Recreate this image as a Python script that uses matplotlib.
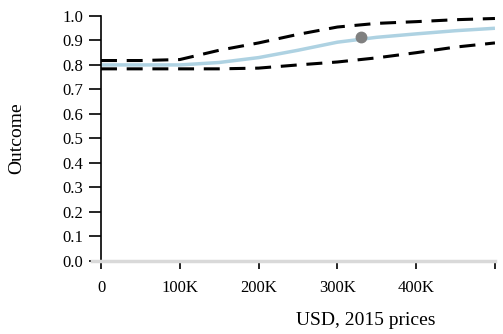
import matplotlib
matplotlib.use('Agg')
import matplotlib.pyplot as plt
from matplotlib.ticker import FuncFormatter

# Значения (x в долларах)
usd = [0, 50000, 100000, 150000, 200000, 250000, 300000, 350000, 400000, 450000, 500000]
outcome_mid = [0.800, 0.800, 0.800, 0.810, 0.830, 0.860, 0.893, 0.913, 0.927, 0.940, 0.950]
outcome_hi = [0.818, 0.818, 0.822, 0.860, 0.890, 0.925, 0.955, 0.970, 0.977, 0.985, 0.990]
outcome_lo = [0.784, 0.784, 0.784, 0.784, 0.787, 0.800, 0.812, 0.829, 0.850, 0.873, 0.890]
point_x = [330000]
point_y = [0.914]

x_ticks = [0, 100000, 200000, 300000, 400000, 500000]
x_labels = ['0', '100K', '200K', '300K', '400K', '']
y_ticks = [0.0, 0.1, 0.2, 0.3, 0.4, 0.5, 0.6, 0.7, 0.8, 0.9, 1.0]

plt.rcParams['font.family'] = ['Liberation Serif', 'DejaVu Serif']
plt.rcParams['lines.scale_dashes'] = False

fig = plt.figure(figsize=(5.03, 3.34), dpi=100)
ax = fig.add_axes([0.182, 0.220, 0.802, 0.732])

# центральная линия и границы
ax.plot(usd, outcome_mid, color='#aed2e2', lw=2.5, solid_capstyle='butt', zorder=2)
ax.plot(usd, outcome_hi, color='black', lw=2.2, dashes=(11.5, 7), zorder=3)
ax.plot(usd, outcome_lo, color='black', lw=2.2, dashes=(11.5, 7), zorder=3)
ax.plot(point_x, point_y, 'o', color='#808080', ms=7.5, zorder=4)

ax.set_xlim(-12000, 500000)
ax.set_ylim(0, 1.0)

# оси
ax.spines['top'].set_visible(False)
ax.spines['right'].set_visible(False)
ax.spines['left'].set_position(('data', 0))
ax.spines['left'].set_linewidth(1.2)
ax.spines['bottom'].set_color('#d9d9d9')
ax.spines['bottom'].set_linewidth(2.5)

ax.set_xticks(x_ticks)
ax.set_xticklabels(x_labels)
ax.set_yticks(y_ticks)
ax.yaxis.set_major_formatter(FuncFormatter(lambda v, p: f'{v:.1f}'))
ax.tick_params(axis='x', length=6, width=1.2, pad=8, labelsize=12, colors='black')
ax.tick_params(axis='y', length=9, width=1.2, pad=4, labelsize=12)

ax.set_xlabel('USD, 2015 prices', fontsize=14)
ax.xaxis.set_label_coords(0.68, -0.21)
ax.set_ylabel('Outcome', fontsize=14)
ax.yaxis.set_label_coords(-0.165, 0.5)

fig.savefig('out.png', dpi=100)
